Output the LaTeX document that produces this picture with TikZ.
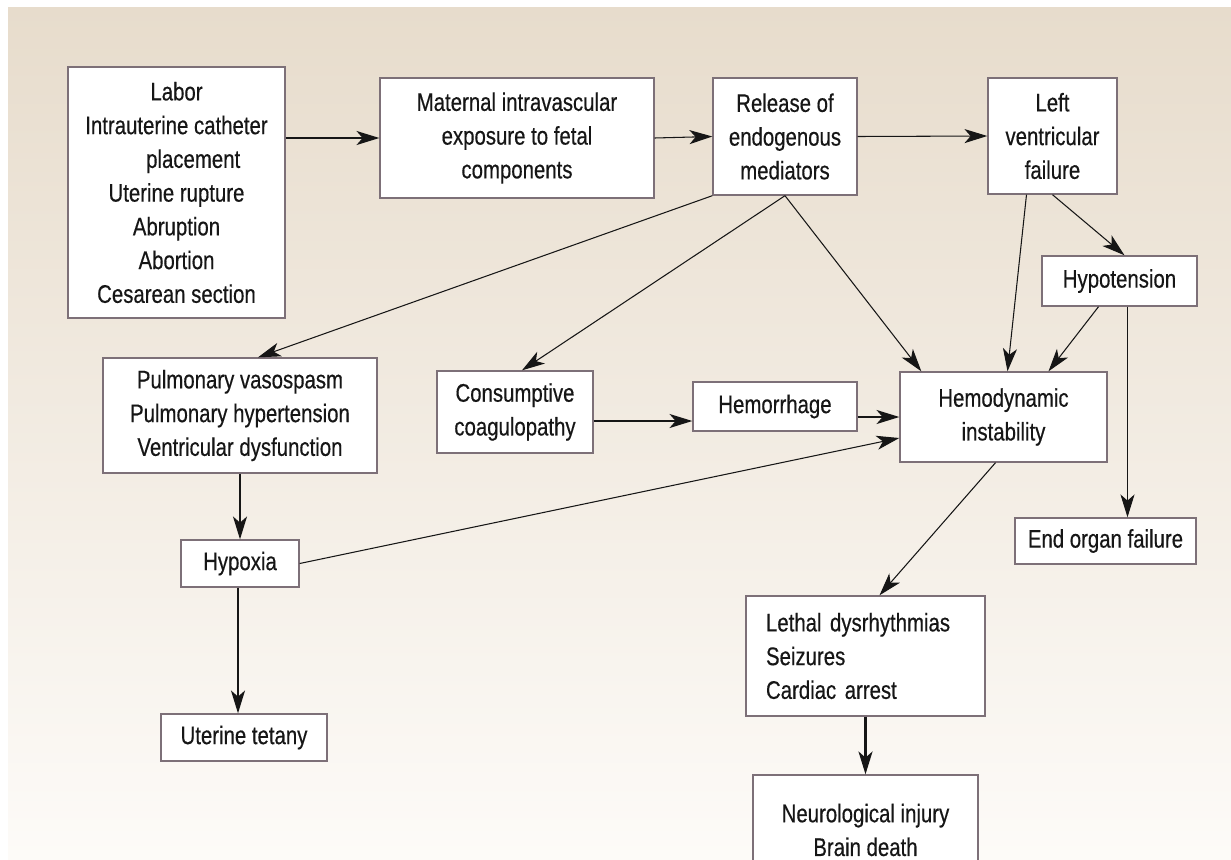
\documentclass[tikz,border=0pt]{standalone}
\usepackage{fontspec}
\setmainfont{Liberation Sans}[FakeStretch=0.80,FakeBold=0.4]
\usetikzlibrary{%
  arrows.meta,%
  calc%
}
\definecolor{boxline}{RGB}{125,112,120}
\definecolor{ink}{RGB}{22,22,22}
\definecolor{bgtop}{RGB}{231,220,204}
\definecolor{bgbot}{RGB}{253,251,248}
\tikzset{>={Stealth[length=13pt,width=8pt,inset=3.5pt]},
  box/.style = {draw=boxline, line width=0.8pt, fill=white, text=ink,
    align=center, inner sep=0pt, font=\fontsize{14.5}{19.2}\selectfont},
  arr/.style = {->, draw=ink, line width=0.6pt}}

\begin{document}
\begin{tikzpicture}[x=0.02cm,y=-0.02cm]
    \path[use as bounding box, clip] (0,0) rectangle (1231,859);
    \fill[white] (0,0) rectangle (1231,859);
    \shade[top color=bgtop, bottom color=bgbot] (8,7) rectangle (1231,859);
    % boxes
    \node[box, minimum width=4.34cm, minimum height=5.02cm] (labor) at (176.5,192.5)
    {Labor\\Intrauterine catheter\\\hspace*{19pt}placement\\Uterine rupture\\Abruption\\Abortion\\Cesarean section};
    \node[box, minimum width=5.48cm, minimum height=2.40cm] (maternal) at (517,138)
    {Maternal intravascular\\exposure to fetal\\components};
    \node[box, minimum width=2.88cm, minimum height=2.34cm] (release) at (785,136.5)
    {Release of\\endogenous\\mediators};
    \node[box, minimum width=2.58cm, minimum height=2.32cm] (lvf) at (1052.5,136)
    {Left\\ventricular\\failure};
    \node[box, minimum width=3.10cm, minimum height=1.00cm] (hypot) at (1119.5,281) {Hypotension};
    \node[box, minimum width=4.14cm, minimum height=1.80cm] (hemo) at (1003.5,417)
    {Hemodynamic\\instability};
    \node[box, minimum width=5.48cm, minimum height=2.30cm] (pulm) at (240,415.5)
    {Pulmonary vasospasm\\Pulmonary hypertension\\Ventricular dysfunction};
    \node[box, minimum width=3.12cm, minimum height=1.64cm] (consum) at (515,412)
    {Consumptive\\coagulopathy};
    \node[box, minimum width=3.28cm, minimum height=0.98cm] (hemor) at (775,406.5) {Hemorrhage};
    \node[box, minimum width=2.36cm, minimum height=0.94cm] (hypoxia) at (240,563.5) {Hypoxia};
    \node[box, minimum width=3.32cm, minimum height=0.94cm] (tetany) at (244,737.5) {Uterine tetany};
    \node[box, minimum width=3.62cm, minimum height=0.92cm] (organ) at (1105.5,541) {End organ failure};
    \node[box, align=left, text width=3.98cm, minimum width=4.78cm, minimum height=2.40cm] (lethal) at (865.5,656)
    {Lethal dysrhythmias\\Seizures\\Cardiac arrest};
    \node[box, minimum width=4.50cm, minimum height=2.20cm] (neuro) at (865.5,830)
    {Neurological injury\\Brain death};
    % arrows
    \draw[arr] (labor.east |- maternal.west) -- (maternal.west);
    \draw[arr] (maternal.east) -- (release.west);
    \draw[arr] (release.east) -- (lvf.west);
    \draw[arr] (release.south west) -- ($(pulm.north)+(18,0)$);
    \draw[arr] (release.south) -- ($(consum.north)+(7,0)$);
    \draw[arr] (release.south) -- ($(hemo.north west)+(22,0)$);
    \draw[arr] ($(lvf.south)+(-26,0)$) -- ($(hemo.north)+(4,0)$);
    \draw[arr] (lvf.south) -- ($(hypot.north)+(5,0)$);
    \draw[arr] ($(hypot.south)+(-21,0)$) -- ($(hemo.north)+(45,0)$);
    \coordinate (eo) at ($(organ.north)+(22,0)$);
    \draw[arr] (eo |- hypot.south) -- (eo);
    \coordinate (cc) at ($(consum.east)+(0,9)$);
    \draw[arr] (cc) -- (cc -| hemor.west);
    \draw[arr] (hemor.east |- hemo.west) -- (hemo.west);
    \draw[arr] (hypoxia.east) -- ($(hemo.west)+(0,21)$);
    \draw[arr] (pulm.south) -- (hypoxia.north);
    \draw[arr] ($(hypoxia.south)+(-2,0)$) -- ($(tetany.north)+(-6,0)$);
    \draw[arr] ($(hemo.south)+(-8,0)$) -- ($(lethal.north)+(14,0)$);
    \draw[arr, line width=1.2pt] (lethal.south) -- (neuro.north);
\end{tikzpicture}
\end{document}
